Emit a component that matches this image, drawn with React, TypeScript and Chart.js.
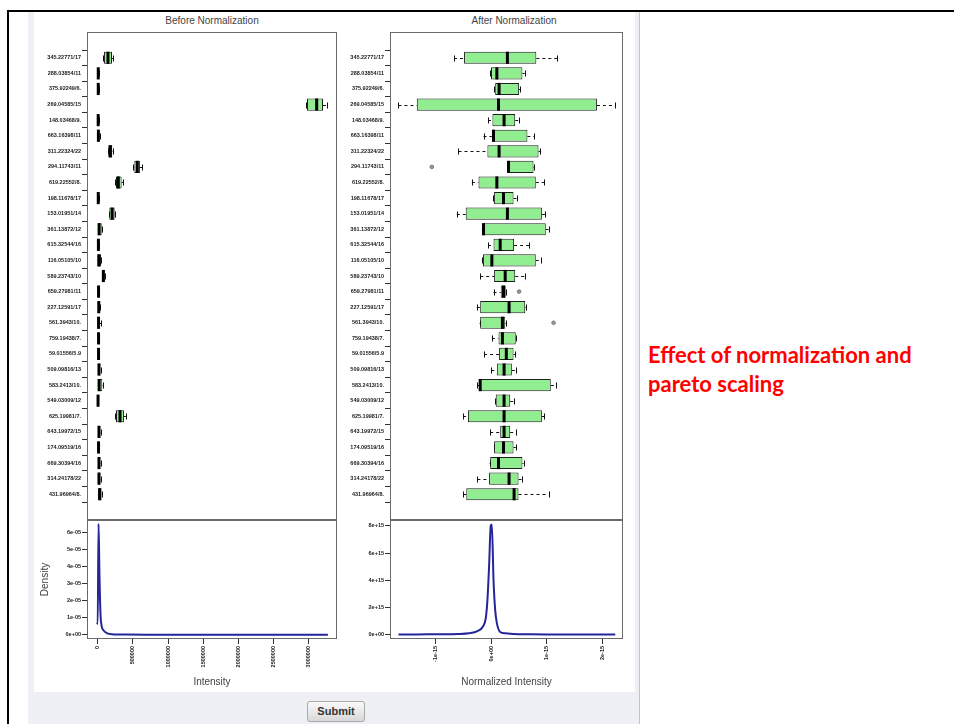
import React, { useEffect, useRef } from "react";
import { Chart, registerables } from "chart.js";
Chart.register(...registerables);

// Feature (m/z / retention time) names
const FEATURES = [
  "345.22771/17", "288.03854/11", "375.92249/6.", "269.04585/15", "148.03468/9.",
  "663.16398/11", "311.22324/22", "294.11743/11", "619.22552/8.", "198.11678/17",
  "153.01951/14", "361.13872/12", "615.32544/16", "116.05105/10", "589.23743/10",
  "659.27981/11", "227.12591/17", "561.3943/10.", "759.19438/7.", "59.01556/5.9",
  "509.09816/13", "583.2413/10.", "549.03009/12", "625.19981/7.", "643.19972/15",
  "174.09519/16", "669.30394/16", "314.24178/22", "431.96964/8.",
];

// Before normalization: box statistics (raw intensity)
const BEFORE_MIN = [75000, 2000, 2000, 2960000, 1000, 2000, 145000, 505000, 250000, 2000, 160000, 1000, 3000, 1000, 62000, 3000, 4000, 3000, 3000, 3000, 5000, 1000, 1000, 250000, 5000, 3000, 5000, 5000, 1000];
const BEFORE_Q1 = [89000, 4000, 4000, 2973000, 3000, 4000, 150000, 520000, 260000, 4000, 165000, 3000, 5000, 3000, 65000, 5000, 6000, 5000, 5000, 5000, 8000, 2000, 2000, 260000, 8000, 5000, 8000, 8000, 3000];
const BEFORE_MED = [146000, 8000, 8000, 3110000, 7000, 10000, 180000, 562000, 293000, 8000, 205000, 20000, 10000, 15000, 80000, 12000, 15000, 12000, 12000, 12000, 18000, 20000, 5000, 317000, 18000, 12000, 18000, 18000, 30000];
const BEFORE_Q3 = [203000, 14000, 14000, 3200000, 12000, 22000, 207000, 600000, 340000, 14000, 241000, 57000, 18000, 47000, 100000, 22000, 30000, 22000, 22000, 22000, 37000, 65000, 9000, 373000, 37000, 22000, 37000, 37000, 51000];
const BEFORE_MAX = [217000, 16000, 16000, 3260000, 14000, 26000, 212000, 635000, 360000, 16000, 245000, 62000, 20000, 52000, 103000, 25000, 33000, 47000, 25000, 25000, 40000, 70000, 11000, 400000, 40000, 25000, 40000, 40000, 55000];
const BEFORE_OUTLIERS: [number, number][] = [];

// After normalization: box statistics (units of 1e-15)
const AFTER_MIN = [-0.67, -0.02, 0.05, -1.67, -0.06, -0.14, -0.59, 0.29, -0.35, 0.03, -0.62, -0.17, -0.06, -0.17, -0.2, 0.04, -0.26, -0.21, 0.01, -0.13, 0.0, -0.25, 0.07, -0.51, -0.02, 0.05, -0.03, -0.25, -0.5];
const AFTER_Q1 = [-0.49, -0.005, 0.07, -1.34, 0.02, 0.01, -0.07, 0.3, -0.23, 0.05, -0.46, -0.16, 0.04, -0.15, 0.05, 0.17, -0.2, -0.2, 0.13, 0.14, 0.1, -0.22, 0.08, -0.42, 0.16, 0.05, -0.02, -0.04, -0.45];
const AFTER_MED = [0.29, 0.1, 0.14, 0.13, 0.23, 0.04, 0.14, 0.31, 0.1, 0.22, 0.29, -0.14, 0.16, 0.01, 0.25, 0.22, 0.32, 0.2, 0.2, 0.27, 0.23, -0.2, 0.23, 0.23, 0.23, 0.22, 0.13, 0.32, 0.41];
const AFTER_Q3 = [0.81, 0.56, 0.5, 1.9, 0.43, 0.65, 0.85, 0.76, 0.8, 0.4, 0.91, 0.98, 0.41, 0.8, 0.43, 0.26, 0.61, 0.25, 0.44, 0.4, 0.37, 1.07, 0.34, 0.91, 0.34, 0.4, 0.56, 0.49, 0.49];
const AFTER_MAX = [1.18, 0.6, 0.52, 2.22, 0.5, 0.77, 0.88, 0.77, 0.95, 0.47, 0.97, 1.03, 0.68, 0.89, 0.61, 0.27, 0.62, 0.26, 0.45, 0.43, 0.45, 1.16, 0.41, 0.95, 0.44, 0.44, 0.58, 0.55, 1.03];
const AFTER_OUTLIERS: [number, number][] = [[7, -1.07], [15, 0.5], [17, 1.12]];

// Density curves
const BEFORE_DENS_X = [-12000, 0, 12000, 25000, 40000, 57000, 85000, 128000, 200000, 400000, 800000, 1500000, 2500000, 3270000];
const BEFORE_DENS_Y = [0.7e-5, 0.65e-5, 6.5e-5, 3.5e-5, 1.2e-5, 0.5e-5, 0.25e-5, 0.1e-5, 0.03e-5, 0.01e-5, 0.005e-5, 0.003e-5, 0.002e-5, 0.001e-5];
// x in units of 1e-15, y in units of 1e15
const AFTER_DENS_X = [-1.67, -1.4, -1.0, -0.6, -0.4, -0.25, -0.15, -0.1, -0.07, -0.04, -0.01, 0.01, 0.04, 0.07, 0.1, 0.16, 0.25, 0.4, 0.7, 1.0, 1.5, 2.0, 2.23];
const AFTER_DENS_Y = [0.02, 0.01, 0.03, 0.05, 0.1, 0.25, 0.6, 1.2, 2.5, 5.0, 8.0, 8.1, 4.0, 1.8, 0.85, 0.2, 0.1, 0.05, 0.03, 0.02, 0.02, 0.01, 0.02];

// Ticks
const BEFORE_X_TICKS = [0, 500000, 1000000, 1500000, 2000000, 2500000, 3000000];
const BEFORE_X_LABELS = ["0", "500000", "1000000", "1500000", "2000000", "2500000", "3000000"];
const BEFORE_Y_TICKS = [0, 1e-5, 2e-5, 3e-5, 4e-5, 5e-5, 6e-5];
const BEFORE_Y_LABELS = ["0e+00", "1e-05", "2e-05", "3e-05", "4e-05", "5e-05", "6e-05"];
const AFTER_X_TICKS = [-1, 0, 1, 2];
const AFTER_X_LABELS = ["-1e-15", "0e+00", "1e-15", "2e-15"];
const AFTER_Y_TICKS = [0, 2, 4, 6, 8];
const AFTER_Y_LABELS = ["0e+00", "2e+15", "4e+15", "6e+15", "8e+15"];

const BEFORE_RANGE = [-152000, 3399000];
const AFTER_RANGE = [-1.822, 2.369];

const TICK_FONT = { family: "Liberation Sans", size: 5.5, weight: "bold" as const };
const BOX_EXT = 18;

const noPad = (s: any) => { s.paddingTop = 0; s.paddingBottom = 0; s.paddingLeft = 0; s.paddingRight = 0; };

const framePlugin = {
  id: "frame",
  afterDraw(chart: any, _a: any, opts: any) {
    const { ctx, chartArea } = chart;
    const ext = opts.ext || 0;
    const h = chart.height;
    const top = Math.max(0, chartArea.top - ext);
    const bottom = Math.min(h, chartArea.bottom + ext);
    ctx.save();
    ctx.strokeStyle = "#6a6a6a";
    ctx.lineWidth = 1;
    ctx.strokeRect(chartArea.left + 0.5, top + 0.5, chartArea.right - chartArea.left - 1, bottom - top - 1);
    ctx.restore();
  },
};

const boxPlugin = {
  id: "boxExtras",
  beforeDatasetsDraw(chart: any, _a: any, opts: any) {
    if (!opts.min) return;
    const { ctx } = chart;
    const x = chart.scales.x, y = chart.scales.y;
    const band = y.getPixelForValue(1) - y.getPixelForValue(0);
    const h = band * 0.78;
    ctx.save();
    ctx.strokeStyle = "#111";
    ctx.lineWidth = 1;
    opts.min.forEach((mn: number, i: number) => {
      const yc = Math.round(y.getPixelForValue(i)) + 0.5;
      const xmn = x.getPixelForValue(mn), xmx = x.getPixelForValue(opts.max[i]);
      const xq1 = x.getPixelForValue(opts.q1[i]), xq3 = x.getPixelForValue(opts.q3[i]);
      ctx.setLineDash([3, 3]);
      ctx.beginPath();
      ctx.moveTo(xmn, yc); ctx.lineTo(xq1, yc);
      ctx.moveTo(xq3, yc); ctx.lineTo(xmx, yc);
      ctx.stroke();
      ctx.setLineDash([]);
      ctx.beginPath();
      ctx.moveTo(Math.round(xmn) + 0.5, yc - h / 4); ctx.lineTo(Math.round(xmn) + 0.5, yc + h / 4);
      ctx.moveTo(Math.round(xmx) + 0.5, yc - h / 4); ctx.lineTo(Math.round(xmx) + 0.5, yc + h / 4);
      ctx.stroke();
    });
    ctx.restore();
  },
  afterDatasetsDraw(chart: any, _a: any, opts: any) {
    if (!opts.med) return;
    const { ctx } = chart;
    const x = chart.scales.x, y = chart.scales.y;
    const band = y.getPixelForValue(1) - y.getPixelForValue(0);
    const h = band * 0.78;
    ctx.save();
    ctx.strokeStyle = "#000";
    ctx.lineWidth = 3;
    opts.med.forEach((m: number, i: number) => {
      const yc = y.getPixelForValue(i);
      const xm = x.getPixelForValue(m);
      ctx.beginPath();
      ctx.moveTo(xm, yc - h / 2); ctx.lineTo(xm, yc + h / 2);
      ctx.stroke();
    });
    ctx.lineWidth = 1;
    ctx.strokeStyle = "#777";
    ctx.fillStyle = "#999";
    (opts.outliers || []).forEach(([i, v]: [number, number]) => {
      ctx.beginPath();
      ctx.arc(x.getPixelForValue(v), y.getPixelForValue(i), 1.8, 0, Math.PI * 2);
      ctx.fill();
      ctx.stroke();
    });
    ctx.restore();
  },
};

function makeBox(canvas: HTMLCanvasElement, mn: number[], q1: number[], med: number[], q3: number[], mx: number[], outliers: [number, number][], range: number[], axisW: number) {
  return new Chart(canvas, {
    type: "bar",
    data: {
      labels: FEATURES,
      datasets: [{
        data: q1.map((v, i) => [v, q3[i]]) as any,
        backgroundColor: "#90ee90",
        borderColor: "#1e1e1e",
        borderWidth: 1,
        borderSkipped: false,
        barPercentage: 0.78,
        categoryPercentage: 1,
      }],
    },
    options: {
      indexAxis: "y",
      animation: false,
      responsive: false,
      events: [],
      layout: { padding: { top: BOX_EXT, bottom: BOX_EXT, left: 0, right: 0 } },
      plugins: {
        legend: { display: false },
        tooltip: { enabled: false },
        boxExtras: { min: mn, q1, med, q3, max: mx, outliers },
        frame: { ext: BOX_EXT },
      } as any,
      scales: {
        x: { type: "linear", display: false, min: range[0], max: range[1] },
        y: {
          type: "category",
          offset: true,
          grid: { display: true, drawOnChartArea: false, drawTicks: true, tickLength: 5, color: "#333" },
          border: { display: false },
          ticks: { font: TICK_FONT, color: "#222", padding: 1, autoSkip: false },
          afterFit: (s: any) => { s.width = axisW; noPad(s); },
        },
      },
    },
    plugins: [boxPlugin, framePlugin],
  });
}

function makeDensity(canvas: HTMLCanvasElement, xs: number[], ys: number[], range: number[], yRange: number[],
  xt: number[], xl: string[], yt: number[], yl: string[], xTitle: string, yTitle: string | null, axisW: number) {
  return new Chart(canvas, {
    type: "line",
    data: {
      datasets: [{
        data: xs.map((x, i) => ({ x, y: ys[i] })),
        borderColor: "#25259a",
        borderWidth: 2,
        pointRadius: 0,
        cubicInterpolationMode: "monotone",
        fill: false,
      }],
    },
    options: {
      animation: false,
      responsive: false,
      events: [],
      layout: { padding: 0 },
      plugins: { legend: { display: false }, tooltip: { enabled: false }, frame: { ext: 0 } } as any,
      scales: {
        x: {
          type: "linear",
          min: range[0], max: range[1],
          afterBuildTicks: (s: any) => { s.ticks = xt.map((v) => ({ value: v })); },
          ticks: {
            callback: (_v: any, i: number) => xl[i],
            minRotation: 90, maxRotation: 90, autoSkip: false, font: TICK_FONT, color: "#222", padding: 2,
          },
          grid: { drawOnChartArea: false, tickLength: 5, color: "#333" },
          border: { display: false },
          title: { display: true, text: xTitle, font: { family: "Liberation Sans", size: 10 }, color: "#444", padding: { top: 0, bottom: 4 } },
          afterFit: (s: any) => { s.height = 53; noPad(s); },
        },
        y: {
          type: "linear",
          min: yRange[0], max: yRange[1],
          afterBuildTicks: (s: any) => { s.ticks = yt.map((v) => ({ value: v })); },
          ticks: { callback: (_v: any, i: number) => yl[i], autoSkip: false, font: TICK_FONT, color: "#222", padding: 1 },
          grid: { drawOnChartArea: false, tickLength: 5, color: "#333" },
          border: { display: false },
          title: { display: !!yTitle, text: yTitle || "", font: { family: "Liberation Sans", size: 10 }, color: "#444", padding: { top: 4, bottom: 0 } },
          afterFit: (s: any) => { s.width = axisW; noPad(s); },
        },
      },
    },
    plugins: [framePlugin],
  });
}

export default function App() {
  const b1 = useRef<HTMLCanvasElement>(null);
  const b2 = useRef<HTMLCanvasElement>(null);
  const d1 = useRef<HTMLCanvasElement>(null);
  const d2 = useRef<HTMLCanvasElement>(null);

  useEffect(() => {
    const charts = [
      makeBox(b1.current!, BEFORE_MIN, BEFORE_Q1, BEFORE_MED, BEFORE_Q3, BEFORE_MAX, BEFORE_OUTLIERS, BEFORE_RANGE, 52),
      makeBox(b2.current!, AFTER_MIN, AFTER_Q1, AFTER_MED, AFTER_Q3, AFTER_MAX, AFTER_OUTLIERS, AFTER_RANGE, 50),
      makeDensity(d1.current!, BEFORE_DENS_X, BEFORE_DENS_Y, BEFORE_RANGE, [-0.25e-5, 6.72e-5],
        BEFORE_X_TICKS, BEFORE_X_LABELS, BEFORE_Y_TICKS, BEFORE_Y_LABELS, "Intensity", "Density", 52),
      makeDensity(d2.current!, AFTER_DENS_X, AFTER_DENS_Y, AFTER_RANGE, [-0.32, 8.43],
        AFTER_X_TICKS, AFTER_X_LABELS, AFTER_Y_TICKS, AFTER_Y_LABELS, "Normalized Intensity", null, 50),
    ];
    return () => charts.forEach((c) => c.destroy());
  }, []);

  const abs = (l: number, t: number, w: number, h: number, extra: React.CSSProperties = {}): React.CSSProperties =>
    ({ position: "absolute", left: l, top: t, width: w, height: h, ...extra });

  return (
    <div style={{ ...abs(0, 0, 954, 724), background: "#fff", overflow: "hidden", fontFamily: "'Liberation Sans', Arial, sans-serif" }}>
      <div style={abs(7, 10, 947, 2, { background: "#000" })} />
      <div style={abs(7, 10, 2, 714, { background: "#000" })} />
      <div style={abs(28, 12, 611, 712, { background: "#eef0f6", borderRight: "1px solid #c4c4c4" })} />
      <div style={abs(34, 12, 601, 680, { background: "#fff" })} />
      <div style={abs(112, 14, 200, 14, { textAlign: "center", fontSize: 10, color: "#444", lineHeight: "14px" })}>Before Normalization</div>
      <div style={abs(407, 14, 214, 14, { textAlign: "center", fontSize: 10, color: "#444", lineHeight: "14px" })}>After Normalization</div>
      <canvas ref={b1} width={302} height={488} style={abs(35, 32, 302, 488, { display: "block" })} />
      <canvas ref={b2} width={283} height={488} style={abs(340, 32, 283, 488, { display: "block" })} />
      <canvas ref={d1} width={302} height={172} style={abs(35, 520, 302, 172, { display: "block" })} />
      <canvas ref={d2} width={283} height={172} style={abs(340, 520, 283, 172, { display: "block" })} />
      <div style={abs(307, 701, 56, 19, {
        border: "1px solid #a9a9a9", borderRadius: 3, background: "linear-gradient(#fafafa, #d8d8d8)",
        textAlign: "center", lineHeight: "19px", fontSize: 11, fontWeight: "bold", color: "#333",
      })}>Submit</div>
      <div style={abs(648, 340, 306, 70, {
        fontFamily: "Lato, 'Open Sans', sans-serif", fontWeight: "bold", fontSize: 22, lineHeight: "29px", color: "#ff0000",
        whiteSpace: "nowrap",
      })}>Effect of normalization and<br />pareto scaling</div>
    </div>
  );
}
